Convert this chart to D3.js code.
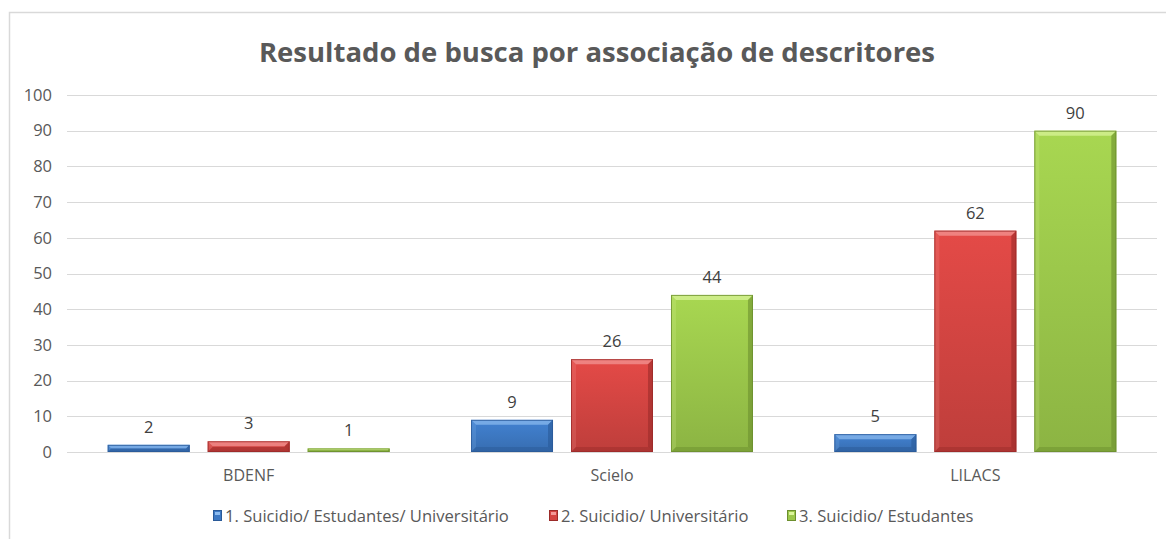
<!DOCTYPE html>
<html>
<head>
<meta charset="utf-8">
<script src="https://cdn.jsdelivr.net/npm/d3@7"></script>
<style>
  html, body { margin: 0; padding: 0; background: #fff; }
  svg { display: block; font-family: "Open Sans", sans-serif; }
</style>
</head>
<body>
<div class="container"></div>
<script>
var categories = ["BDENF", "Scielo", "LILACS"];
var seriesNames = ["1. Suicidio/ Estudantes/ Universitário", "2. Suicidio/ Universitário", "3. Suicidio/ Estudantes"];
var series1 = [2, 9, 5];
var series2 = [3, 26, 62];
var series3 = [1, 44, 90];
var yTicks = [0, 10, 20, 30, 40, 50, 60, 70, 80, 90, 100];

var W = 1166, H = 539;
var plot = { left: 67, right: 1157, top: 95, bottom: 452 };
var palette = [
  { base: "#3d79c4", light: "#8dbcf0", dark: "#2a5a98" },
  { base: "#d44542", light: "#f49a98", dark: "#9b2b29" },
  { base: "#9cc84b", light: "#dcf59c", dark: "#6c8f2e" }
];

var svg = d3.select(".container").append("svg")
  .attr("width", W).attr("height", H);

// frame
svg.append("path")
  .attr("d", `M9.5,${H} V12.5 H${W}`)
  .attr("fill", "none").attr("stroke", "#d9d9d9").attr("stroke-width", 1.5);

svg.append("text")
  .attr("x", 597).attr("y", 62)
  .attr("text-anchor", "middle")
  .attr("font-size", 27.5).attr("font-weight", 700)
  .attr("fill", "#595959")
  .text("Resultado de busca por associação de descritores");

var y = d3.scaleLinear().domain([0, 100]).range([plot.bottom, plot.top]);
var x0 = d3.scaleBand().domain(categories).range([plot.left, plot.right]).paddingInner(0).paddingOuter(0);
var x1 = d3.scaleBand().domain([0, 1, 2]).range([0, x0.bandwidth()]).paddingInner(0.18).paddingOuter(0.407);

// gridlines
svg.append("g").selectAll("line").data(yTicks).enter().append("line")
  .attr("x1", plot.left).attr("x2", plot.right)
  .attr("y1", d => Math.round(y(d)) + 0.5).attr("y2", d => Math.round(y(d)) + 0.5)
  .attr("stroke", "#d9d9d9").attr("stroke-width", 1);

var yAxis = svg.append("g")
  .attr("transform", `translate(${plot.left - 15},0)`)
  .call(d3.axisLeft(y).tickValues(yTicks).tickSize(0).tickPadding(0));
yAxis.select(".domain").remove();
yAxis.selectAll("text").attr("font-size", 16.5).attr("fill", "#595959")
  .attr("font-family", "'Open Sans', sans-serif");

var xAxis = svg.append("g")
  .attr("transform", `translate(0,${plot.bottom})`)
  .call(d3.axisBottom(x0).tickSize(0).tickPadding(18));
xAxis.select(".domain").remove();
xAxis.selectAll("text").attr("font-size", 16).attr("fill", "#595959")
  .attr("font-family", "'Open Sans', sans-serif");

// gradients
var defs = svg.append("defs");
palette.forEach(function (c, i) {
  var g = defs.append("linearGradient").attr("id", "grad" + i)
    .attr("x1", 0).attr("y1", 0).attr("x2", 0).attr("y2", 1);
  g.append("stop").attr("offset", "0%").attr("stop-color", d3.color(c.base).brighter(0.2));
  g.append("stop").attr("offset", "100%").attr("stop-color", d3.color(c.base).darker(0.3));
});

var data = [];
categories.forEach(function (cat, ci) {
  [series1, series2, series3].forEach(function (s, si) {
    data.push({ cat: cat, s: si, v: s[ci] });
  });
});

var bars = svg.append("g").selectAll("g").data(data).enter().append("g")
  .attr("transform", d => `translate(${x0(d.cat) + x1(d.s)},0)`);

bars.each(function (d) {
  var g = d3.select(this);
  var w = x1.bandwidth();
  var top = y(d.v), bot = y(0), h = bot - top;
  var c = palette[d.s];
  var b = Math.min(5, h / 2, w / 2);
  g.append("rect").attr("x", 0).attr("y", top).attr("width", w).attr("height", h)
    .attr("fill", `url(#grad${d.s})`);
  // bevel: top, left, right, bottom
  g.append("path").attr("d", `M0,${top} L${w},${top} L${w - b},${top + b} L${b},${top + b} Z`)
    .attr("fill", c.light).attr("opacity", 0.7);
  g.append("path").attr("d", `M0,${top} L${b},${top + b} L${b},${bot - b} L0,${bot} Z`)
    .attr("fill", c.light).attr("opacity", 0.2);
  g.append("path").attr("d", `M${w},${top} L${w - b},${top + b} L${w - b},${bot - b} L${w},${bot} Z`)
    .attr("fill", c.dark).attr("opacity", 0.6);
  g.append("path").attr("d", `M0,${bot} L${b},${bot - b} L${w - b},${bot - b} L${w},${bot} Z`)
    .attr("fill", c.dark).attr("opacity", 0.5);
  g.append("rect").attr("x", 0.5).attr("y", top + 0.5).attr("width", w - 1).attr("height", Math.max(0, h - 1))
    .attr("fill", "none").attr("stroke", c.dark).attr("stroke-width", 1).attr("opacity", 0.8);
  g.append("text").attr("x", w / 2).attr("y", top - 12)
    .attr("text-anchor", "middle").attr("font-size", 16.5).attr("fill", "#404040")
    .text(d.v);
});

// legend
var legendX = [213, 549, 787];
var legend = svg.append("g").selectAll("g").data(seriesNames).enter().append("g")
  .attr("transform", (d, i) => `translate(${legendX[i]},516)`);
legend.append("rect").attr("x", 0.5).attr("y", -5.5).attr("width", 8).attr("height", 10)
  .attr("fill", (d, i) => palette[i].base).attr("stroke", (d, i) => palette[i].dark);
legend.append("rect").attr("x", 2).attr("y", -4).attr("width", 5).attr("height", 3)
  .attr("fill", (d, i) => palette[i].light);
legend.append("text").attr("x", 12).attr("y", 6)
  .attr("font-size", 16.6).attr("fill", "#595959")
  .text(d => d);
</script>
</body>
</html>
